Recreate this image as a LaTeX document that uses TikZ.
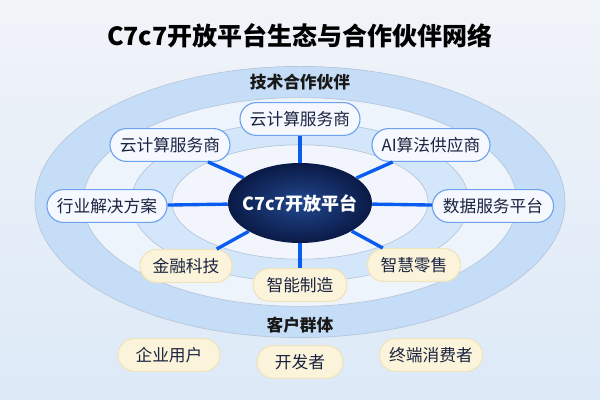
\documentclass[tikz,border=0pt]{standalone}
\usepackage{fontspec}
\usepackage{xcolor}
\usepackage{tikz}
\usetikzlibrary{shapes.geometric,positioning}
\newfontfamily\cjk{Noto Sans CJK SC}
\definecolor{ringblue}{HTML}{C6DDF7}
\definecolor{ringwhite}{HTML}{EEF4FC}
\definecolor{ringmid}{HTML}{D4E6F9}
\definecolor{ringcore}{HTML}{F2F6FC}
\definecolor{ringline}{HTML}{B7C7DB}
\definecolor{linkblue}{HTML}{0A5CF0}
\definecolor{navy}{HTML}{0A1A46}
\definecolor{navylight}{HTML}{21488F}
\definecolor{ink}{HTML}{1A2340}
\definecolor{pillfill}{HTML}{F5F8FE}
\definecolor{pilledge}{HTML}{6EA2EC}
\definecolor{creamfill}{HTML}{FBF4DB}
\definecolor{creamedge}{HTML}{EFE3BC}
\definecolor{bgtop}{HTML}{F1F4F9}
\definecolor{bgbottom}{HTML}{DCE9F7}

\begin{document}
\begin{tikzpicture}[
    techpill/.style={rectangle, rounded corners=0.41cm, draw=pilledge, fill=pillfill, line width=0.8pt, text=ink, font=\cjk\fontsize{11.9}{13}\selectfont, minimum height=0.82cm, inner xsep=2pt},
    custpill/.style={techpill, draw=creamedge, fill=creamfill},
    ringlabel/.style={font=\cjk\bfseries\fontsize{11.9}{13}\selectfont, text=black!90},
    link/.style={draw=linkblue, line width=2.4pt}
]
    \useasboundingbox (-7.5,-4.95) rectangle (7.5,5.05);
    \shade[top color=bgtop, bottom color=bgbottom] (-7.5,-4.95) rectangle (7.5,5.05);

    % rings, outside in
    \filldraw[fill=ringblue, draw=ringline, line width=0.5pt] (0,0) ellipse [x radius=6.625, y radius=3.39];
    \filldraw[fill=ringwhite, draw=ringline, line width=0.5pt] (0,0) ellipse [x radius=5.425, y radius=2.61];
    \filldraw[fill=ringmid, draw=ringline, line width=0.5pt] (0,0) ellipse [x radius=4.225, y radius=2.0];
    \filldraw[fill=ringcore, draw=ringline, line width=0.5pt] (0,0) ellipse [x radius=3.2, y radius=1.43];

    \node[font=\cjk\bfseries\fontsize{17.8}{20}\selectfont, text=black] (title) at (0,4.15) {C7c7开放平台生态与合作伙伴网络};
    \node[ringlabel] (techlbl) at (0,3.0) {技术合作伙伴};
    \node[ringlabel] (custlbl) at (0,-3.075) {客户群体};

    \node[ellipse, minimum width=3.6cm, minimum height=2cm, inner sep=0pt, inner color=navylight, outer color=navy, text=white, font=\cjk\bfseries\fontsize{12.8}{14}\selectfont] (core) at (0,-0.025) {\makebox[2.4cm][c]{C7c7开放平台}};

    \node[techpill, minimum width=3.0cm] (tp1) at (0,2.075) {云计算服务商};
    \node[techpill, minimum width=3.0cm] (tp2) at (-3.25,1.425) {云计算服务商};
    \node[techpill, minimum width=2.95cm] (tp3) at (3.275,1.425) {AI算法供应商};
    \node[techpill, minimum width=3.0cm] (tp4) at (-4.825,-0.1) {行业解决方案};
    \node[techpill, minimum width=3.03cm] (tp5) at (4.825,-0.1) {数据服务平台};

    \node[custpill, minimum width=2.3cm] (ind1) at (-2.85,-1.6) {金融科技};
    \node[custpill, minimum width=2.35cm] (ind2) at (0,-2.075) {智能制造};
    \node[custpill, minimum width=2.33cm] (ind3) at (2.85,-1.575) {智慧零售};

    \node[custpill, minimum width=2.55cm] (cu1) at (-3.275,-3.825) {企业用户};
    \node[custpill, minimum width=2.15cm] (cu2) at (0,-4.0) {开发者};
    \node[custpill, minimum width=2.58cm] (cu3) at (3.275,-3.825) {终端消费者};

    \draw[link] (core) -- (tp1);
    \draw[link] (core) -- (tp2);
    \draw[link] (core) -- (tp3);
    \draw[link] (core) -- (tp4);
    \draw[link] (core) -- (tp5);
    \draw[link] (core) -- (ind1);
    \draw[link] (core) -- (ind2);
    \draw[link] (core) -- (ind3);
\end{tikzpicture}
\end{document}
